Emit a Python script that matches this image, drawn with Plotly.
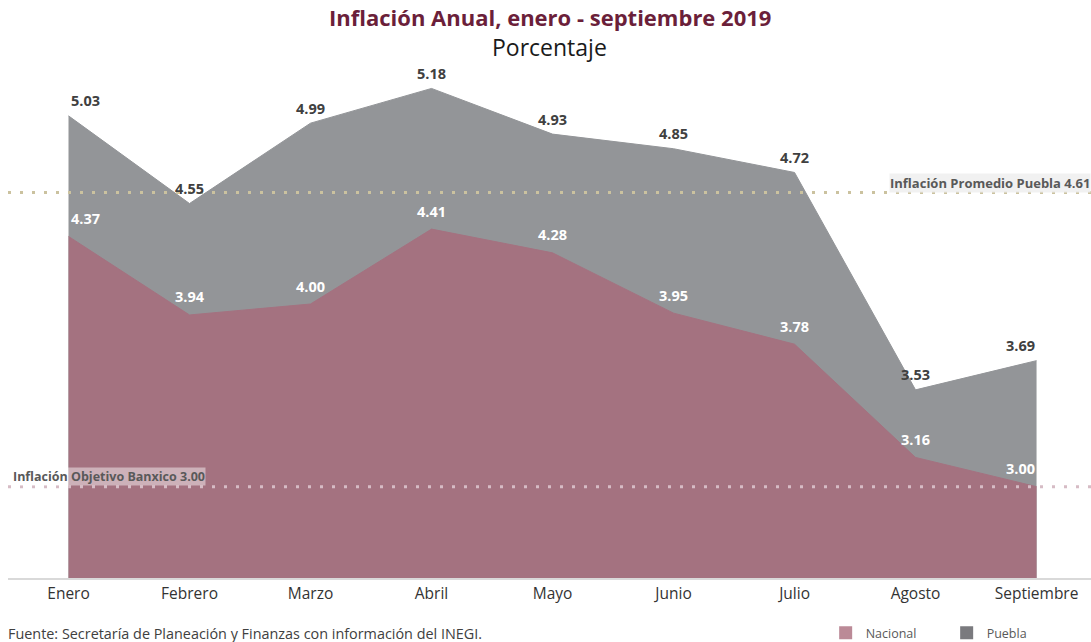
import plotly.graph_objects as go

meses = ["Enero", "Febrero", "Marzo", "Abril", "Mayo", "Junio", "Julio", "Agosto", "Septiembre"]
nacional = [4.37, 3.94, 4.00, 4.41, 4.28, 3.95, 3.78, 3.16, 3.00]
puebla = [5.03, 4.55, 4.99, 5.18, 4.93, 4.85, 4.72, 3.53, 3.69]
promedio_puebla = 4.61
objetivo_banxico = 3.00

FONT = "Open Sans"
C_NAC = "#a47280"
C_PUE = "#939598"
C_TXT = "#404040"

fig = go.Figure()
fig.add_trace(go.Scatter(x=meses, y=puebla, mode="lines", fill="tozeroy",
                         line=dict(color=C_PUE, width=1), fillcolor=C_PUE,
                         showlegend=False, hoverinfo="x+y", name="Puebla"))
fig.add_trace(go.Scatter(x=meses, y=nacional, mode="lines", fill="tozeroy",
                         line=dict(color=C_NAC, width=1), fillcolor=C_NAC,
                         showlegend=False, hoverinfo="x+y", name="Nacional"))
# legend entries
fig.add_trace(go.Scatter(x=[None], y=[None], mode="markers", name="Nacional",
                         marker=dict(symbol="square", size=13, color="#bb8a97")))
fig.add_trace(go.Scatter(x=[None], y=[None], mode="markers", name="Puebla",
                         marker=dict(symbol="square", size=13, color="#7a7a7e")))

n = len(meses)
def anchor(i):
    return "left" if i == 0 else ("right" if i == n - 1 else "center")

for i, (m, v) in enumerate(zip(meses, puebla)):
    fig.add_annotation(x=m, y=v, text=f"<b>{v:.2f}</b>", showarrow=False,
                       xanchor=anchor(i), yanchor="middle", yshift=15,
                       font=dict(family=FONT, size=14.5, color=C_TXT))
for i, (m, v) in enumerate(zip(meses, nacional)):
    fig.add_annotation(x=m, y=v, text=f"<b>{v:.2f}</b>", showarrow=False,
                       xanchor=anchor(i), yanchor="middle", yshift=18,
                       font=dict(family=FONT, size=14.5, color="white"))

# reference lines
fig.add_shape(type="line", xref="paper", x0=0, x1=1, yref="y",
              y0=promedio_puebla, y1=promedio_puebla,
              line=dict(color="#cbc29f", width=3, dash="3px,9px"))
fig.add_shape(type="line", xref="paper", x0=0, x1=1, yref="y",
              y0=objetivo_banxico, y1=objetivo_banxico,
              line=dict(color="#d6bcc5", width=3, dash="3px,9px"))

fig.add_annotation(xref="paper", x=1, y=promedio_puebla, yref="y",
                   text=f"<b>Inflación Promedio Puebla {promedio_puebla:.2f}</b>",
                   showarrow=False, xanchor="right", yanchor="middle", yshift=10,
                   bgcolor="rgba(240,240,240,0.9)", borderpad=0,
                   font=dict(family=FONT, size=13, color="#595959"))
fig.add_annotation(xref="paper", x=0.004, y=objetivo_banxico, yref="y",
                   text=f"<b>Inflación Objetivo Banxico {objetivo_banxico:.2f}</b>",
                   showarrow=False, xanchor="left", yanchor="middle", yshift=10,
                   bgcolor="rgba(255,255,255,0.45)", borderpad=0,
                   font=dict(family=FONT, size=12.5, color="#595959"))

# title / subtitle / source
fig.add_annotation(xref="paper", yref="paper", x=0.5, y=1, yshift=13,
                   text="<b>Inflación Anual, enero - septiembre 2019</b>",
                   showarrow=False, xanchor="center", yanchor="middle",
                   font=dict(family=FONT, size=22, color="#6b1f3a"))
fig.add_annotation(xref="paper", yref="paper", x=0.5, y=1, yshift=-17,
                   text="Porcentaje", showarrow=False, xanchor="center", yanchor="middle",
                   font=dict(family=FONT, size=23, color="#1a1a1a"))
fig.add_annotation(xref="paper", yref="paper", x=0, y=0, yshift=-55, xshift=-2,
                   text="Fuente: Secretaría de Planeación y Finanzas con información del INEGI.",
                   showarrow=False, xanchor="left", yanchor="middle",
                   font=dict(family=FONT, size=14.4, color=C_TXT))

fig.update_layout(
    width=1091, height=642,
    margin=dict(l=8, r=0, t=30, b=64),
    paper_bgcolor="white", plot_bgcolor="white",
    font=dict(family=FONT, color=C_TXT),
    showlegend=True,
    legend=dict(orientation="h", x=0.755, xanchor="left",
                yref="container", y=0.014, yanchor="middle",
                entrywidth=76, entrywidthmode="pixels",
                font=dict(family=FONT, size=12.5, color="#595959"),
                bgcolor="rgba(0,0,0,0)"),
)
fig.update_xaxes(type="category", range=[-0.5, 8.45], showgrid=False,
                 showline=True, linecolor="#d9d9d9", linewidth=2,
                 ticks="", tickfont=dict(family=FONT, size=15.5, color="#333333"),
                 zeroline=False)
fig.update_yaxes(range=[2.5, 5.5], showgrid=False, showticklabels=False,
                 zeroline=False, showline=False)

fig.write_html("out.html", config={"displayModeBar": False},
               post_script="document.body.style.margin='0';document.body.style.overflow='hidden';")
